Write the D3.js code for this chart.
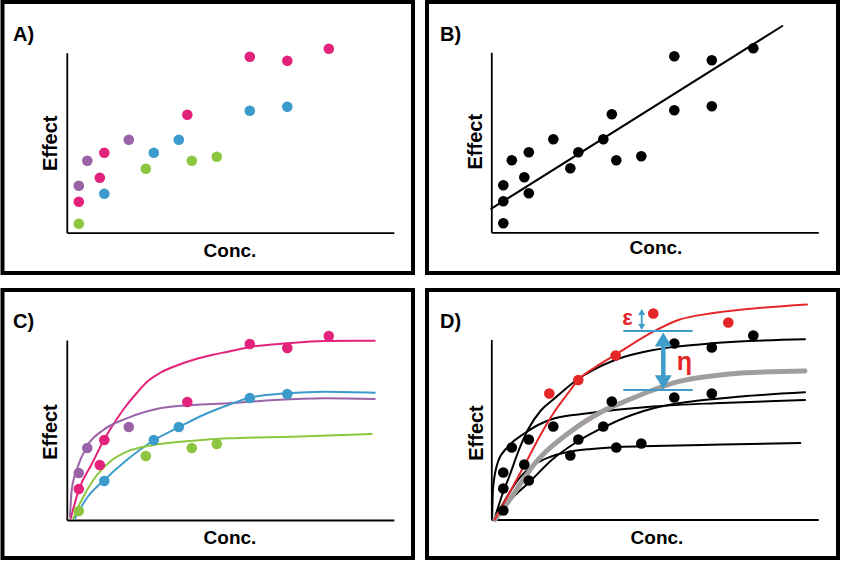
<!DOCTYPE html>
<html><head><meta charset="utf-8">
<script src="https://cdn.jsdelivr.net/npm/d3@7"></script>
<style>html,body{margin:0;padding:0;background:#fff}svg{display:block}</style>
</head><body><svg id="c" width="845" height="563"></svg>
<script>
// ---------- observed data (conc., effect) per individual ----------
const pinkConc   = [12, 33, 37.5, 120.5, 183, 220.5, 262];
const pinkEff    = [31, 55, 80, 118, 176, 172, 184];
const purpleConc = [12, 20.5, 62];
const purpleEff  = [47, 72, 93];
const blueConc   = [37.5, 87, 112, 183, 220.5];
const blueEff    = [39, 80, 93, 122, 126];
const greenConc  = [12, 79, 125, 150];
const greenEff   = [9, 64, 72, 76];
const redConc    = [58, 87, 124.4, 162, 237];
const redEff     = [126, 139.5, 164, 206, 197];

// ---------- panel B: linear regression line ----------
const regConc = [0, 291];
const regEff  = [23.6, 206.3];

// ---------- panel C: fitted curves per individual ----------
const cPinkCurveConc   = [3.9, 12.2, 25, 37.5, 50, 60, 70, 80, 93, 110, 126, 145, 161, 183, 220, 258, 308];
const cPinkCurveEff    = [1.7, 30.7, 56, 80.7, 101, 115, 127, 138, 147, 154.5, 160, 165, 168.3, 173, 176.7, 179, 179.3];
const cPurpleCurveConc = [3.2, 4.9, 9.9, 19.9, 36.5, 60, 93, 126.5, 161.5, 208, 258, 308];
const cPurpleCurveEff  = [3.3, 30, 50, 73.3, 90, 101.7, 111.7, 115, 116.7, 120, 121.7, 121];
const cBlueCurveConc   = [8.2, 19.9, 37.5, 60, 87.5, 113, 136.5, 161.5, 183, 220, 258, 308];
const cBlueCurveEff    = [1.7, 21.7, 40, 60, 80, 93.3, 105, 115, 122.3, 126.7, 128.3, 127.3];
const cGreenCurveConc  = [6.5, 13.2, 26.5, 43.2, 60, 86.5, 126.5, 161.5, 225, 305];
const cGreenCurveEff   = [1.7, 16.7, 40, 58.3, 68.3, 75, 79.3, 81.7, 83.3, 86];

// ---------- panel D: individual fits, population fit ----------
const dPinkCurveConc   = [3, 10, 18.7, 27, 36.7, 50, 63.4, 85.4, 123.7, 162, 184.7, 220.4, 313.7];
const dPinkCurveEff    = [0, 22, 45, 68, 90, 109.5, 121.2, 139.5, 159.5, 169.5, 172.8, 176.2, 180.2];
const dPurpleCurveConc = [0.8, 1.7, 6.7, 16.7, 33.4, 46.7, 63.4, 96.7, 162, 230, 313.7];
const dPurpleCurveEff  = [0, 31, 57.8, 72.8, 86.2, 94.5, 101.2, 106.2, 113, 116.5, 119.5];
const dBlueCurveConc   = [3, 20.4, 38.7, 60.4, 88.7, 113.7, 140.4, 162, 200, 250, 313.7];
const dBlueCurveEff    = [0, 21, 38, 59.5, 79.5, 92.8, 104.5, 111.2, 118, 123, 127.2];
const dGreenCurveConc  = [3, 13, 27, 43, 60, 80.7, 100, 127.4, 162, 230, 309];
const dGreenCurveEff   = [0, 18, 40, 55, 63, 68.2, 70.5, 72.5, 73.5, 75, 76.5];
const dRedCurveConc    = [3.5, 20, 35, 50, 62, 75, 87, 105, 123.7, 162, 187, 220.4, 253.7, 315.7];
const dRedCurveEff     = [0, 30, 57.8, 86, 106, 124, 139.5, 153, 164.5, 187.8, 199.5, 206.2, 210.2, 215];
const popCurveConc     = [3.7, 20.4, 30, 43.7, 77, 110.4, 137, 162, 187, 220.4, 253.7, 313.7];
const popCurveEff      = [0, 22.8, 37, 56.2, 86.2, 107.8, 119.5, 129.5, 137.8, 143.5, 146.8, 148.5];

// ---------- annotation values (panel D) ----------
const etaConc = 172, etaTop = 187, etaBottom = 130.2;       // eta arrow
const refLineEff = [188.5, 129.5], refLineConc = [132, 201.4];
const epsConc = 150.4, epsTop = 210.5, epsBottom = 189.5;    // epsilon arrow

const COL = {pink:"#e2227b", purple:"#9a63a7", blue:"#3c9bcc", green:"#8cc63f",
             red:"#e52629", gray:"#a19d9d", ann:"#3f9dcc"};
const FONT = "'Liberation Sans', Arial, sans-serif";

const svg = d3.select("#c");
const W = 327, H = 180;

const panels = [
  {label:"A)", ox:66.8,  oy:232.7, box:[2.5,2,410.5,271],   lab:[13,41],    eff:[56.5,143.3], conc:[230,256.7]},
  {label:"B)", ox:491.3, oy:232.3, box:[427,2,411,271],     lab:[440,40.5], eff:[482,141.7],  conc:[656,254]},
  {label:"C)", ox:66.8,  oy:520,   box:[2.5,290,410.5,268], lab:[13,328],   eff:[56.5,432],   conc:[230,543.5]},
  {label:"D)", ox:491.3, oy:519.5, box:[427,290,411,268],   lab:[440,328],  eff:[483,433],    conc:[657,543.5]}
];

function setup(p){
  const g = svg.append("g");
  g.append("rect").attr("x",p.box[0]).attr("y",p.box[1]).attr("width",p.box[2]).attr("height",p.box[3])
    .attr("fill","none").attr("stroke","#000").attr("stroke-width",4);
  g.append("text").attr("x",p.lab[0]).attr("y",p.lab[1]).text(p.label)
    .attr("font-family",FONT).attr("font-weight","bold").attr("font-size",20);
  g.append("text").attr("transform",`translate(${p.eff[0]},${p.eff[1]}) rotate(-90)`)
    .attr("text-anchor","middle").text("Effect")
    .attr("font-family",FONT).attr("font-weight","bold").attr("font-size",20);
  g.append("text").attr("x",p.conc[0]).attr("y",p.conc[1]).attr("text-anchor","middle").text("Conc.")
    .attr("font-family",FONT).attr("font-weight","bold").attr("font-size",19);
  const x = d3.scaleLinear().domain([0,W]).range([p.ox,p.ox+W]);
  const y = d3.scaleLinear().domain([0,H]).range([p.oy,p.oy-H]);
  const ax = g.append("g").attr("transform",`translate(0,${p.oy})`)
    .call(d3.axisBottom(x).tickValues([]).tickSizeOuter(0));
  const ay = g.append("g").attr("transform",`translate(${p.ox},0)`)
    .call(d3.axisLeft(y).tickValues([]).tickSizeOuter(0));
  [ax,ay].forEach(a=>a.select(".domain").attr("stroke","#000").attr("stroke-width",1.8));
  return {g,x,y};
}

function dots(P, X, Y, color){
  P.g.append("g").selectAll("circle").data(d3.zip(X,Y)).join("circle")
    .attr("cx",d=>P.x(d[0])).attr("cy",d=>P.y(d[1])).attr("r",5.3).attr("fill",color);
}
function curve(P, X, Y, color, w){
  const line = d3.line().x(d=>P.x(d[0])).y(d=>P.y(d[1])).curve(d3.curveMonotoneX);
  P.g.append("path").datum(d3.zip(X,Y)).attr("d",line)
    .attr("fill","none").attr("stroke",color).attr("stroke-width",w).attr("stroke-linecap","round");
}

// Panel A
const A = setup(panels[0]);
dots(A, pinkConc, pinkEff, COL.pink);
dots(A, purpleConc, purpleEff, COL.purple);
dots(A, blueConc, blueEff, COL.blue);
dots(A, greenConc, greenEff, COL.green);

// Panel B
const B = setup(panels[1]);
curve(B, regConc, regEff, "#000", 2);
[[pinkConc,pinkEff],[purpleConc,purpleEff],[blueConc,blueEff],[greenConc,greenEff]]
  .forEach(s=>dots(B, s[0], s[1], "#000"));

// Panel C
const C = setup(panels[2]);
curve(C, cPinkCurveConc, cPinkCurveEff, COL.pink, 2);
curve(C, cPurpleCurveConc, cPurpleCurveEff, COL.purple, 2);
curve(C, cBlueCurveConc, cBlueCurveEff, COL.blue, 2);
curve(C, cGreenCurveConc, cGreenCurveEff, COL.green, 2);
dots(C, pinkConc, pinkEff, COL.pink);
dots(C, purpleConc, purpleEff, COL.purple);
dots(C, blueConc, blueEff, COL.blue);
dots(C, greenConc, greenEff, COL.green);

// Panel D
const D = setup(panels[3]);
curve(D, dPinkCurveConc, dPinkCurveEff, "#000", 2);
curve(D, dPurpleCurveConc, dPurpleCurveEff, "#000", 2);
curve(D, dBlueCurveConc, dBlueCurveEff, "#000", 2);
curve(D, dGreenCurveConc, dGreenCurveEff, "#000", 2);
curve(D, popCurveConc, popCurveEff, COL.gray, 5);
curve(D, dRedCurveConc, dRedCurveEff, COL.red, 2);
[[pinkConc,pinkEff],[purpleConc,purpleEff],[blueConc,blueEff],[greenConc,greenEff]]
  .forEach(s=>dots(D, s[0], s[1], "#000"));
dots(D, redConc, redEff, COL.red);

// annotations
const ann = D.g.append("g");
refLineEff.forEach(e=>{
  ann.append("line").attr("x1",D.x(refLineConc[0])).attr("x2",D.x(refLineConc[1]))
    .attr("y1",D.y(e)).attr("y2",D.y(e)).attr("stroke",COL.ann).attr("stroke-width",1.8);
});
function dblArrow(cx, yTop, yBot, shaft, headW, headL){
  ann.append("line").attr("x1",cx).attr("x2",cx).attr("y1",yTop+headL-1).attr("y2",yBot-headL+1)
    .attr("stroke",COL.ann).attr("stroke-width",shaft);
  ann.append("path").attr("fill",COL.ann)
    .attr("d",`M${cx},${yTop}L${cx-headW/2},${yTop+headL}L${cx+headW/2},${yTop+headL}Z`);
  ann.append("path").attr("fill",COL.ann)
    .attr("d",`M${cx},${yBot}L${cx-headW/2},${yBot-headL}L${cx+headW/2},${yBot-headL}Z`);
}
dblArrow(D.x(etaConc), D.y(etaTop), D.y(etaBottom), 4.5, 17, 14);
dblArrow(D.x(epsConc), D.y(epsTop), D.y(epsBottom), 1.8, 7, 6);
ann.append("text").attr("x",D.x(136.2)).attr("y",D.y(194.5)).attr("text-anchor","middle")
  .text("ε").attr("fill",COL.red).attr("font-family",FONT).attr("font-weight","bold").attr("font-size",22);
ann.append("text").attr("x",D.x(193.2)).attr("y",D.y(149.5)).attr("text-anchor","middle")
  .text("η").attr("fill",COL.red).attr("font-family",FONT).attr("font-weight","bold").attr("font-size",25);
</script></body></html>
